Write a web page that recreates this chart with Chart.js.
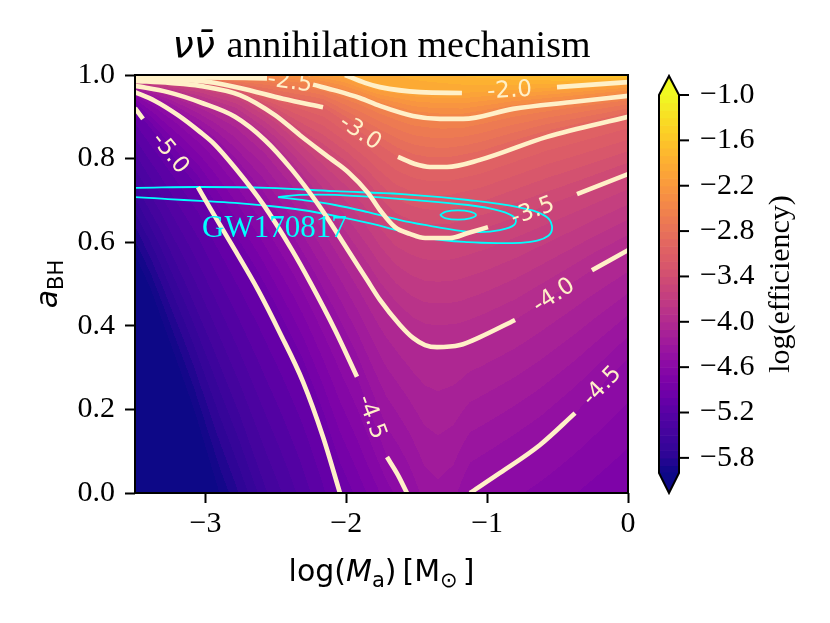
<!DOCTYPE html>
<html>
<head>
<meta charset="utf-8">
<script src="https://cdn.jsdelivr.net/npm/chart.js@4.4.0/dist/chart.umd.min.js"></script>
<style>
html,body{margin:0;padding:0;background:#fff;}
#wrap{width:830px;height:623px;position:relative;}
</style>
</head>
<body>
<div id="wrap"><canvas id="c"></canvas></div>
<script>
// ---------------- data ----------------
const xTicks = [-3, -2, -1, 0];
const yTicks = [0.0, 0.2, 0.4, 0.6, 0.8, 1.0];
const cbTicks = [-1.0, -1.6, -2.2, -2.8, -3.4, -4.0, -4.6, -5.2, -5.8];
const xRange = [-3.5, 0];
const yRange = [0, 1];
const cbRange = [-6.0, -1.0];
const fillStep = 0.1;

// contour lines [log(Ma), a_BH]; null marks the gap where the inline label sits
const line_m50 = [[-3.5,0.921],[-3.443,0.895],null,[-3.053,0.732],[-2.968,0.682],[-2.790,0.581],[-2.627,0.486],[-2.471,0.383],[-2.307,0.266],[-2.165,0.134],[-2.045,0.0]];
const line_m45a = [[-3.5,0.959],[-3.358,0.938],[-3.195,0.904],[-3.039,0.864],[-2.932,0.833],[-2.790,0.778],[-2.591,0.691],[-2.385,0.581],[-2.258,0.505],[-2.080,0.390],[-1.924,0.278],null,[-1.711,0.086],[-1.633,0.043],[-1.569,0.0]];
const line_m45b = [[-1.122,0.0],[-0.909,0.048],[-0.625,0.115],[-0.376,0.191],null,[0.0,0.323]];
const line_m40 = [[-3.5,0.974],[-3.266,0.959],[-3.024,0.933],[-2.790,0.900],[-2.577,0.844],[-2.385,0.773],[-2.201,0.691],[-1.988,0.581],[-1.853,0.510],[-1.761,0.462],[-1.619,0.402],[-1.526,0.371],[-1.441,0.354],[-1.356,0.349],[-1.193,0.354],[-1.051,0.373],[-0.802,0.414],null,[-0.256,0.533],[0.0,0.581]];
const line_m35 = [[-3.5,0.986],[-3.252,0.981],[-3.039,0.974],[-2.755,0.952],[-2.506,0.904],[-2.329,0.856],[-2.116,0.801],[-1.988,0.768],[-1.846,0.718],[-1.761,0.677],[-1.654,0.636],[-1.548,0.620],[-1.441,0.610],[-1.264,0.610],[-1.136,0.622],[-0.994,0.636],null,[-0.362,0.715],[0.0,0.763]];
const line_m30 = [[-3.5,0.990],[-3.039,0.986],[-2.755,0.969],[-2.449,0.943],[-2.165,0.923],null,[-1.633,0.804],[-1.512,0.787],[-1.406,0.780],[-1.285,0.780],[-1.051,0.797],[-0.575,0.852],[0.0,0.900]];
const line_m25 = [[-3.5,0.995],[-3.039,0.994],[-2.563,0.992],null,[-2.236,0.977],[-2.066,0.962],[-1.903,0.945],[-1.761,0.926],[-1.526,0.902],[-1.335,0.895],[-1.171,0.895],[-0.816,0.919],[-0.412,0.935],[0.0,0.950]];
const line_m20 = [[-2.009,1.0],[-1.867,0.981],[-1.761,0.971],[-1.477,0.959],[-1.179,0.957],null,[-0.504,0.971],[0.0,0.983]];

// where the filled colours reach -5.5 and -6.0 (no line drawn there)
const fill_m55 = [[-3.5,0.740],[-3.32,0.630],[-3.14,0.500],[-2.95,0.350],[-2.76,0.190],[-2.56,0.0]];
const fill_m60 = [[-3.5,0.570],[-3.39,0.490],[-3.25,0.360],[-3.08,0.200],[-2.90,0.0]];

// value of log(efficiency) along the top (a=1) and bottom (a=0) edges
const topEdgeX = [-3.5, -2.563, -2.009, -1.477, -0.767, 0.0];
const topEdgeV = [-2.45, -2.35, -2.0, -1.85, -1.7, -1.5];
const bottomEdgeX = [-3.5, -2.90, -2.56, -2.045, -1.569, -1.45, -1.35, -1.24, -1.122, -0.55, 0.0];
const bottomEdgeV = [-7.0, -6.0, -5.5, -5.0, -4.5, -4.37, -4.33, -4.37, -4.5, -4.65, -4.8];

// GW170817 credible-region contours
const gwOuter = [[-3.606,0.730],[-3.5,0.730],[-3.039,0.732],[-2.556,0.730],[-2.080,0.722],[-1.604,0.715],[-1.136,0.701],[-0.781,0.684],[-0.589,0.663],[-0.540,0.639],[-0.568,0.615],[-0.710,0.600],[-0.909,0.598],[-1.136,0.600],[-1.420,0.610],[-1.619,0.627],[-1.846,0.646],[-2.080,0.663],[-2.314,0.677],[-2.556,0.687],[-2.790,0.694],[-3.039,0.699],[-3.266,0.703],[-3.5,0.708],[-3.606,0.708],[-3.606,0.730]];
const gwMiddle = [[-2.485,0.708],[-2.329,0.713],[-2.080,0.713],[-1.604,0.703],[-1.136,0.689],[-0.909,0.675],[-0.802,0.658],[-0.809,0.641],[-0.909,0.629],[-1.051,0.624],[-1.228,0.629],[-1.406,0.639],[-1.619,0.653],[-1.846,0.672],[-2.080,0.689],[-2.314,0.701],[-2.485,0.708]];
const gwInner = [[-1.335,0.665],[-1.293,0.673],[-1.207,0.676],[-1.122,0.673],[-1.079,0.665],[-1.122,0.657],[-1.207,0.654],[-1.293,0.657],[-1.335,0.665]];
const gwText = 'GW170817';
const gwTextPos = [-3.024, 0.612];

// ---------------- styling ----------------
const lineColor = 'rgb(255,240,200)';
const cyan = '#00ffff';
const serif = '"Liberation Serif", "Times New Roman", serif';
const sans = '"DejaVu Sans", sans-serif';

const contourLines = [
  {level:-5.0, pts:line_m50}, {level:-4.5, pts:line_m45a}, {level:-4.5, pts:line_m45b},
  {level:-4.0, pts:line_m40}, {level:-3.5, pts:line_m35}, {level:-3.0, pts:line_m30},
  {level:-2.5, pts:line_m25}, {level:-2.0, pts:line_m20}
];
const fieldLines = contourLines.concat([{level:-5.5, pts:fill_m55}, {level:-6.0, pts:fill_m60}]);

// plasma colormap
const plasmaStops = [[13,8,135],[47,5,150],[65,4,157],[83,2,163],[106,0,168],[126,3,168],[143,13,164],[161,27,155],[177,42,144],[191,57,132],[204,71,120],[216,87,107],[225,100,98],[234,116,87],[242,132,75],[248,149,64],[252,166,54],[253,185,46],[252,206,37],[247,226,36],[240,249,33]];
function plasma(t){
  t = Math.max(0, Math.min(1, t));
  const f = t*(plasmaStops.length-1);
  const i = Math.min(plasmaStops.length-2, Math.floor(f));
  const u = f - i, a = plasmaStops[i], b = plasmaStops[i+1];
  return [a[0]+(b[0]-a[0])*u, a[1]+(b[1]-a[1])*u, a[2]+(b[2]-a[2])*u];
}
const nBands = Math.round((cbRange[1]-cbRange[0])/fillStep);
const bandColors = [];
for (let i=0;i<nBands;i++) bandColors.push(plasma((i+0.5)/nBands));
const underColor = plasma(0), overColor = plasma(1);
function levelColor(v){
  if (v < cbRange[0]) return underColor;
  if (v >= cbRange[1]) return overColor;
  let idx = Math.floor((v-cbRange[0])/fillStep + 1e-9);
  if (idx >= nBands) idx = nBands-1;
  return bandColors[idx];
}
const rgb = c => `rgb(${Math.round(c[0])},${Math.round(c[1])},${Math.round(c[2])})`;

function edgeVal(xs, vs, x){
  if (x <= xs[0]) return vs[0];
  for (let i=0;i<xs.length-1;i++){
    if (x <= xs[i+1]) { const t=(x-xs[i])/(xs[i+1]-xs[i]); return vs[i]+t*(vs[i+1]-vs[i]); }
  }
  return vs[vs.length-1];
}
function crossAt(line, x){
  const pts = line.filter(p => p);
  if (x < pts[0][0] || x > pts[pts.length-1][0]) return null;
  for (let i=0;i<pts.length-1;i++){
    const p=pts[i], q=pts[i+1];
    if (x >= p[0] && x <= q[0]) { const t = q[0]===p[0]?0:(x-p[0])/(q[0]-p[0]); return p[1]+t*(q[1]-p[1]); }
  }
  return null;
}
const minusFmt = (v, d) => (v < 0 ? '\u2212' : '') + Math.abs(v).toFixed(d);

// ---------------- plugins ----------------
const fieldPlugin = {
  id: 'field',
  beforeDatasetsDraw(chart){
    const {ctx, chartArea: ca, scales: {x: xs, y: ys}} = chart;
    const W = Math.round(ca.right-ca.left), H = Math.round(ca.bottom-ca.top);
    const off = document.createElement('canvas'); off.width = W; off.height = H;
    const octx = off.getContext('2d'); const img = octx.createImageData(W, H);
    for (let i=0;i<W;i++){
      const xv = xs.getValueForPixel(ca.left + (i+0.5)*(ca.right-ca.left)/W);
      const cr = [{a:0, v:edgeVal(bottomEdgeX, bottomEdgeV, xv)}, {a:1, v:edgeVal(topEdgeX, topEdgeV, xv)}];
      fieldLines.forEach(fl => { const a = crossAt(fl.pts, xv); if (a !== null) cr.push({a, v:fl.level}); });
      cr.sort((p,q) => p.a-q.a);
      for (let j=0;j<H;j++){
        const av = ys.getValueForPixel(ca.top + (j+0.5)*(ca.bottom-ca.top)/H);
        let k = 0; while (k < cr.length-2 && av > cr[k+1].a) k++;
        const p = cr[k], q = cr[k+1];
        let t = q.a === p.a ? 0 : (av-p.a)/(q.a-p.a); t = Math.max(0, Math.min(1, t));
        const c = levelColor(p.v + (q.v-p.v)*t);
        const o = (j*W+i)*4;
        img.data[o]=c[0]; img.data[o+1]=c[1]; img.data[o+2]=c[2]; img.data[o+3]=255;
      }
    }
    octx.putImageData(img, 0, 0);
    ctx.save(); ctx.imageSmoothingEnabled = false;
    ctx.drawImage(off, ca.left, ca.top, ca.right-ca.left, ca.bottom-ca.top);
    ctx.restore();
  }
};

function drawRich(ctx, parts, x, y){
  let w = 0;
  parts.forEach(p => { ctx.font = p.font; p.w = ctx.measureText(p.t).width; w += p.w + (p.gap||0); });
  let cx = x - w/2;
  parts.forEach(p => { ctx.font = p.font; ctx.fillText(p.t, cx, y + (p.dy||0)); cx += p.w + (p.gap||0); });
}

const overlayPlugin = {
  id: 'overlay',
  afterDatasetsDraw(chart){
    const {ctx, chartArea: ca, scales: {x: xs, y: ys}} = chart;
    ctx.save();
    ctx.beginPath(); ctx.rect(ca.left, ca.top, ca.right-ca.left, ca.bottom-ca.top); ctx.clip();
    // inline contour labels
    ctx.fillStyle = lineColor; ctx.font = '23px ' + sans; ctx.textAlign = 'center'; ctx.textBaseline = 'middle';
    contourLines.forEach(cl => {
      const k = cl.pts.indexOf(null); if (k < 0) return;
      const p0 = cl.pts[k-1], p1 = cl.pts[k+1];
      const x0 = xs.getPixelForValue(p0[0]), y0 = ys.getPixelForValue(p0[1]);
      const x1 = xs.getPixelForValue(p1[0]), y1 = ys.getPixelForValue(p1[1]);
      let ang = Math.atan2(y1-y0, x1-x0);
      if (ang > Math.PI/2) ang -= Math.PI; if (ang < -Math.PI/2) ang += Math.PI;
      ctx.save(); ctx.translate((x0+x1)/2, (y0+y1)/2); ctx.rotate(ang);
      ctx.fillText(cl.level.toFixed(1), 0, 1); ctx.restore();
    });
    // GW170817 text
    ctx.fillStyle = cyan; ctx.font = '31px ' + serif; ctx.textAlign = 'left'; ctx.textBaseline = 'alphabetic';
    ctx.fillText(gwText, xs.getPixelForValue(gwTextPos[0]), ys.getPixelForValue(gwTextPos[1]));
    ctx.restore();
  },
  afterDraw(chart){
    const {ctx, chartArea: ca} = chart;
    ctx.save();
    // frame
    ctx.strokeStyle = '#000'; ctx.lineWidth = 2;
    ctx.strokeRect(ca.left, ca.top, ca.right-ca.left, ca.bottom-ca.top);

    // colorbar
    const cb = {left: ca.right+31, right: ca.right+51, top: 95, bottom: 473, tipTop: 76, tipBottom: 493};
    const cbY = v => cb.top + (cbRange[1]-v)/(cbRange[1]-cbRange[0])*(cb.bottom-cb.top);
    for (let i=0;i<nBands;i++){
      const v0 = cbRange[0] + i*fillStep;
      const y0 = cbY(v0), y1 = cbY(v0+fillStep);
      ctx.fillStyle = rgb(bandColors[i]);
      ctx.fillRect(cb.left, y1, cb.right-cb.left, y0-y1+0.6);
    }
    const mid = (cb.left+cb.right)/2;
    ctx.fillStyle = rgb(overColor);
    ctx.beginPath(); ctx.moveTo(cb.left, cb.top+0.5); ctx.lineTo(mid, cb.tipTop); ctx.lineTo(cb.right, cb.top+0.5); ctx.closePath(); ctx.fill();
    ctx.fillStyle = rgb(underColor);
    ctx.beginPath(); ctx.moveTo(cb.left, cb.bottom-0.5); ctx.lineTo(mid, cb.tipBottom); ctx.lineTo(cb.right, cb.bottom-0.5); ctx.closePath(); ctx.fill();
    ctx.beginPath();
    ctx.moveTo(cb.left, cb.top); ctx.lineTo(mid, cb.tipTop); ctx.lineTo(cb.right, cb.top);
    ctx.lineTo(cb.right, cb.bottom); ctx.lineTo(mid, cb.tipBottom); ctx.lineTo(cb.left, cb.bottom); ctx.closePath();
    ctx.lineWidth = 2; ctx.strokeStyle = '#000'; ctx.stroke();
    ctx.fillStyle = '#000'; ctx.font = '30px ' + serif; ctx.textAlign = 'left'; ctx.textBaseline = 'middle';
    cbTicks.forEach(v => {
      const y = cbY(v);
      ctx.beginPath(); ctx.moveTo(cb.right, y); ctx.lineTo(cb.right+10, y); ctx.stroke();
      ctx.fillText(minusFmt(v, 1), cb.right+21, y);
    });
    // colorbar label
    ctx.save(); ctx.translate(789, (cb.top+cb.bottom)/2); ctx.rotate(-Math.PI/2);
    ctx.textAlign = 'center'; ctx.textBaseline = 'alphabetic'; ctx.font = '30px ' + serif;
    ctx.fillText('log(efficiency)', 0, 0); ctx.restore();

    // title
    ctx.textAlign = 'left'; ctx.textBaseline = 'alphabetic'; ctx.fillStyle = '#000';
    const cx = (ca.left+ca.right)/2;
    drawRich(ctx, [
      {t:'\u03BD\u03BD\u0304', font:'italic 38px ' + sans, gap: 2},
      {t:' annihilation mechanism', font:'38px ' + serif}
    ], cx, 57);

    // x axis label
    drawRich(ctx, [
      {t:'log(', font:'30px ' + sans},
      {t:'M', font:'italic 30px ' + sans},
      {t:'a', font:'21px ' + sans, dy:6},
      {t:')', font:'30px ' + sans, gap: 6},
      {t:'[', font:'30px ' + sans},
      {t:'M', font:'30px ' + sans},
      {t:'\u2299', font:'21px ' + sans, dy:6, gap: 5},
      {t:']', font:'30px ' + sans}
    ], cx, 581);

    // y axis label
    ctx.save(); ctx.translate(57, (ca.top+ca.bottom)/2); ctx.rotate(-Math.PI/2);
    drawRich(ctx, [
      {t:'a', font:'italic 30px ' + sans},
      {t:'BH', font:'21px ' + sans, dy:6}
    ], 0, 0);
    ctx.restore();
    ctx.restore();
  }
};

// ---------------- datasets ----------------
const toXY = arr => arr.map(p => p ? {x:p[0], y:p[1]} : {x:null, y:null});
const datasets = [];
contourLines.forEach(cl => datasets.push({
  data: toXY(cl.pts), showLine: true, pointRadius: 0, borderColor: lineColor, borderWidth: 4.6,
  cubicInterpolationMode: 'monotone', borderJoinStyle: 'round', clip: 0
}));
[gwOuter, gwMiddle, gwInner].forEach(g => datasets.push({
  data: toXY(g), showLine: true, pointRadius: 0, borderColor: cyan, borderWidth: 1.8,
  tension: 0.4, borderJoinStyle: 'round', clip: 0
}));

const tickFont = {family: serif, size: 30};
new Chart(document.getElementById('c'), {
  type: 'scatter',
  data: {datasets},
  options: {
    responsive: true, maintainAspectRatio: false, animation: false,
    layout: {padding: {top: 75, right: 202, left: 0, bottom: 0}},
    plugins: {legend: {display: false}, tooltip: {enabled: false}, title: {display: false}},
    events: [],
    scales: {
      x: {
        type: 'linear', min: xRange[0], max: xRange[1],
        afterBuildTicks: s => { s.ticks = xTicks.map(v => ({value: v})); },
        afterFit: s => { s.height = 130; },
        grid: {drawOnChartArea: false, drawTicks: true, tickLength: 10, tickWidth: 2, tickColor: '#000'},
        border: {display: false},
        ticks: {color: '#000', font: tickFont, padding: 3, maxRotation: 0, autoSkip: false, callback: v => minusFmt(v, 0)}
      },
      y: {
        type: 'linear', min: yRange[0], max: yRange[1],
        afterBuildTicks: s => { s.ticks = yTicks.map(v => ({value: v})); },
        afterFit: s => { s.width = 135; },
        grid: {drawOnChartArea: false, drawTicks: true, tickLength: 10, tickWidth: 2, tickColor: '#000'},
        border: {display: false},
        ticks: {color: '#000', font: tickFont, padding: 10, autoSkip: false, callback: v => v.toFixed(1)}
      }
    }
  },
  plugins: [fieldPlugin, overlayPlugin]
});
</script>
</body>
</html>
